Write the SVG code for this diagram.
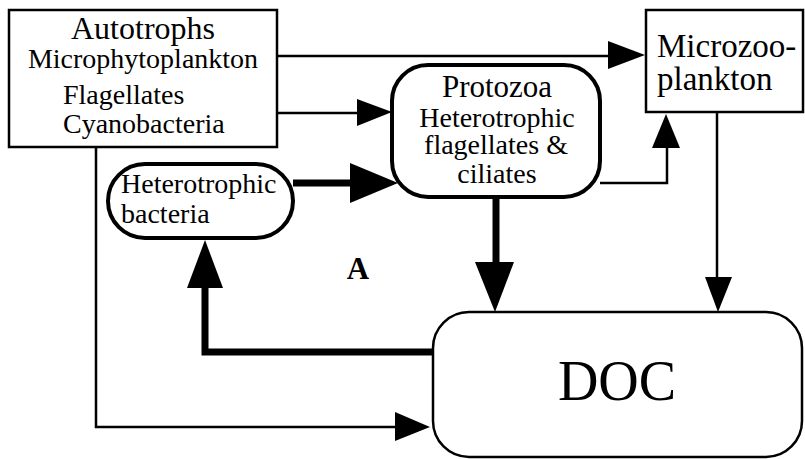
<svg xmlns="http://www.w3.org/2000/svg" width="805" height="459" viewBox="0 0 805 459">
<style>
.box{fill:#fff;stroke:#000;stroke-width:2.5}
.bold{fill:#fff;stroke:#000;stroke-width:4}
.t{font-family:"Liberation Serif","Times New Roman",serif;fill:#000}
.thin{fill:none;stroke:#000;stroke-width:2.5}
.thick{fill:none;stroke:#000;stroke-width:7}
.head{fill:#000;stroke:none}
</style>
<rect width="805" height="459" fill="#fff"/>
<g id="connectors">
  <path class="thin" d="M277 56 H612"/>
  <polygon class="head" points="608,41 645,55 608,69"/>
  <path class="thin" d="M245 113 H360"/>
  <polygon class="head" points="357,99 392,112 357,126"/>
  <path class="thick" d="M293 183 H355"/>
  <polygon class="head" points="350,163 398,183 350,203"/>
  <path class="thin" d="M600 183 H667 V145"/>
  <polygon class="head" points="652,148 666,114 680,148"/>
  <path class="thick" d="M496 197 V266"/>
  <polygon class="head" points="475,262 495,312 514,262"/>
  <path class="thin" d="M717 112 V280"/>
  <polygon class="head" points="705,277 718,312 732,277"/>
  <path class="thick" d="M436 352 H205 V285"/>
  <polygon class="head" points="187,288 205,240 223,288"/>
  <path class="thin" d="M96 147 V427 H398"/>
  <polygon class="head" points="395,412 430,427 395,441"/>
</g>
<g id="autotrophs">
  <rect class="box" x="9" y="10" width="268" height="137"/>
  <text class="t" x="143" y="39" font-size="32" text-anchor="middle">Autotrophs</text>
  <text class="t" x="143" y="68" font-size="28" text-anchor="middle">Microphytoplankton</text>
  <text class="t" x="63" y="104" font-size="28">Flagellates</text>
  <text class="t" x="63" y="133" font-size="28">Cyanobacteria</text>
</g>
<g id="microzooplankton">
  <rect class="box" x="646" y="10" width="157" height="102"/>
  <text class="t" x="657" y="57" font-size="33">Microzoo-</text>
  <text class="t" x="657" y="90" font-size="33">plankton</text>
</g>
<g id="protozoa">
  <rect class="bold" x="392" y="65" width="208" height="132" rx="36" ry="36"/>
  <text class="t" x="497" y="97" font-size="31" text-anchor="middle">Protozoa</text>
  <text class="t" x="497" y="127" font-size="28" text-anchor="middle">Heterotrophic</text>
  <text class="t" x="496" y="154" font-size="28" text-anchor="middle">flagellates &amp;</text>
  <text class="t" x="497" y="183" font-size="28" text-anchor="middle">ciliates</text>
</g>
<g id="bacteria">
  <rect class="bold" x="108" y="164" width="185" height="74" rx="37" ry="37"/>
  <text class="t" x="121" y="193" font-size="28">Heterotrophic</text>
  <text class="t" x="121" y="223" font-size="28">bacteria</text>
</g>
<g id="doc">
  <rect class="box" x="433" y="312" width="369" height="145" rx="36" ry="36"/>
  <text class="t" x="617" y="400" font-size="56" text-anchor="middle">DOC</text>
</g>
<g id="label-a">
  <text class="t" x="358" y="279" font-size="31" font-weight="bold" text-anchor="middle">A</text>
</g>
</svg>
